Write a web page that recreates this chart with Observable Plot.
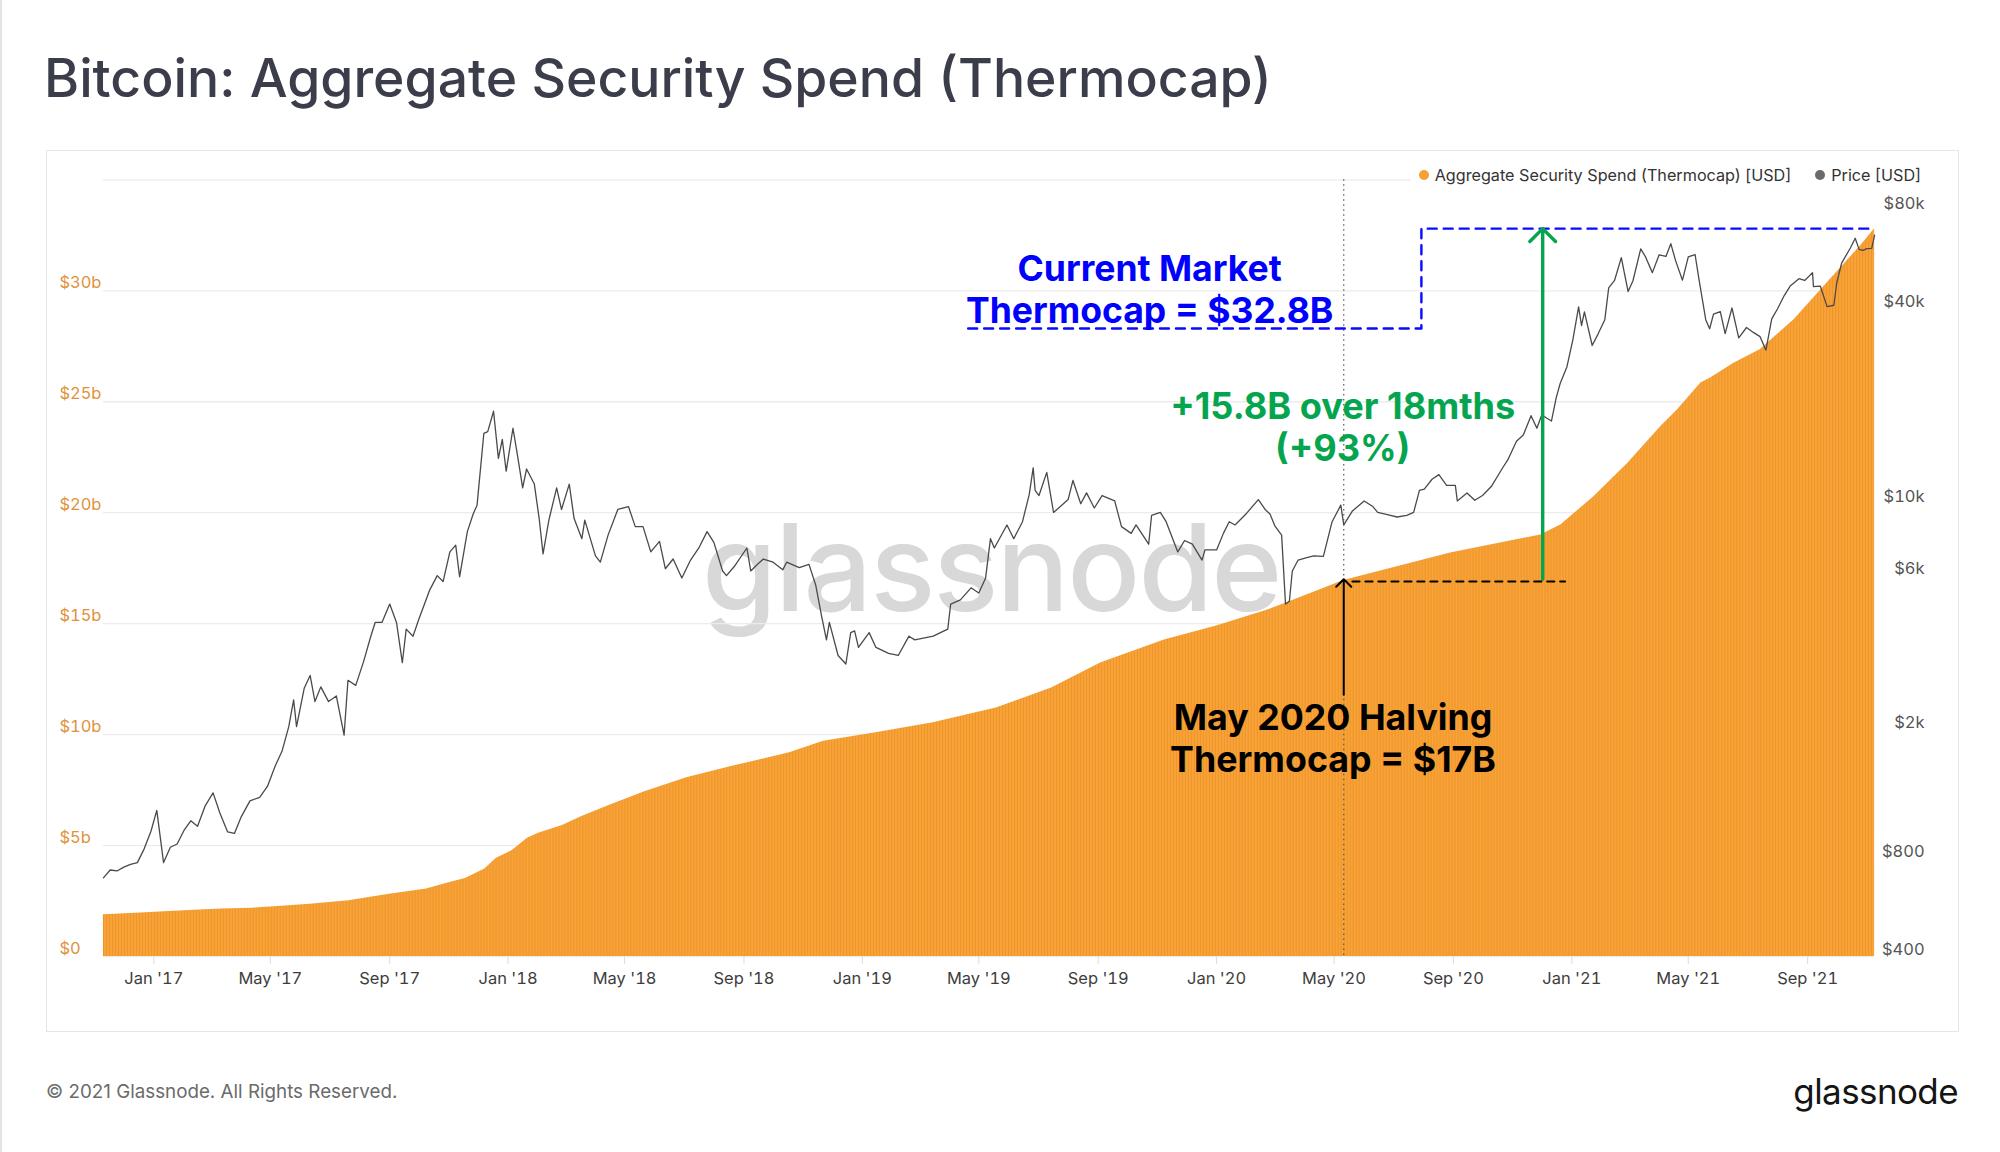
<!DOCTYPE html>
<html>
<head>
<meta charset="utf-8">
<script src="https://cdn.jsdelivr.net/npm/d3@7"></script>
<script src="https://cdn.jsdelivr.net/npm/@observablehq/plot@0.6"></script>
<style>
  html, body { margin: 0; padding: 0; background: #fff; }
  #page { position: relative; width: 2000px; height: 1152px; overflow: hidden; font-family: Inter, "Noto Sans", sans-serif; border-left: 2px solid #e4e4e4; box-sizing: border-box; }
  #title { position: absolute; left: 42px; top: 51px; font-size: 53.5px; font-weight: 500; color: #3b3e4a; white-space: nowrap; line-height: 1; }
  #box { position: absolute; left: 44px; top: 150px; width: 1913px; height: 882px; border: 1.5px solid #e6e6e6; box-sizing: border-box; }
  #watermark { position: absolute; left: 700px; top: 507px; font-size: 121px; line-height: 1; color: #d8d8d8; font-weight: 500; letter-spacing: -2px; white-space: nowrap; }
  #chart { position: absolute; left: 0; top: 0; z-index: 2; }
  #legend { position: absolute; right: 79px; top: 163px; z-index: 3; background: #fff; display: flex; align-items: center; font-size: 16.2px; color: #333; padding-left: 8px; height: 24px; }
  .dot { display: inline-block; width: 10px; height: 10px; border-radius: 50%; margin-right: 6px; }
  .item { display: flex; align-items: center; }
  #footer { position: absolute; left: 44px; top: 1080px; font-size: 18.8px; color: #6b6b6b; white-space: nowrap; }
  #logo { position: absolute; right: 42px; top: 1070px; font-size: 35px; color: #151515; letter-spacing: -0.6px; white-space: nowrap; }
</style>
</head>
<body>
<div id="page">
  <div id="title">Bitcoin: Aggregate Security Spend (Thermocap)</div>
  <div id="box"></div>
  <div id="watermark">glassnode</div>
  <div id="legend">
    <span class="item"><span class="dot" style="background:#f7a135"></span>Aggregate Security Spend (Thermocap) [USD]</span>
    <span class="item" style="margin-left:24px"><span class="dot" style="background:#6b6b6b"></span>Price [USD]</span>
  </div>
  <div id="footer">© 2021 Glassnode. All Rights Reserved.</div>
  <div id="logo">glassnode</div>
</div>
<script>
// ---- Thermocap (cumulative miner revenue), $ billions ----
const capDates = ["2016-11-10","2016-12-08","2017-01-12","2017-02-12","2017-03-12","2017-04-12","2017-05-05","2017-06-11","2017-07-21","2017-08-30","2017-10-09","2017-11-02","2017-11-18","2017-12-08","2017-12-20","2018-01-05","2018-01-21","2018-02-02","2018-02-26","2018-03-18","2018-04-15","2018-05-21","2018-07-04","2018-08-20","2018-10-18","2018-11-22","2019-01-15","2019-03-15","2019-05-19","2019-07-15","2019-09-04","2019-11-09","2020-01-01","2020-02-22","2020-03-14","2020-05-11","2020-08-29","2020-11-30","2020-12-21","2021-01-24","2021-02-28","2021-04-03","2021-04-20","2021-05-14","2021-05-24","2021-06-17","2021-07-14","2021-08-18","2021-09-21","2021-10-25","2021-11-09"];
const capValues = [1.88,1.94,2.02,2.09,2.14,2.18,2.24,2.36,2.51,2.79,3.04,3.34,3.52,3.95,4.43,4.77,5.33,5.57,5.90,6.31,6.81,7.41,8.06,8.57,9.18,9.70,10.08,10.53,11.20,12.10,13.24,14.28,14.90,15.60,15.95,16.95,18.18,19.00,19.46,20.73,22.24,23.89,24.64,25.84,26.07,26.74,27.34,28.70,30.35,32.00,32.80];

// ---- Price, USD ----
const priceDates = ["2016-11-10","2016-11-17","2016-11-24","2016-12-01","2016-12-08","2016-12-15","2016-12-22","2016-12-29","2017-01-04","2017-01-11","2017-01-18","2017-01-25","2017-02-01","2017-02-08","2017-02-15","2017-02-23","2017-03-03","2017-03-10","2017-03-18","2017-03-25","2017-04-01","2017-04-10","2017-04-20","2017-04-28","2017-05-06","2017-05-13","2017-05-20","2017-05-25","2017-05-28","2017-06-05","2017-06-11","2017-06-16","2017-06-22","2017-06-30","2017-07-08","2017-07-16","2017-07-20","2017-07-28","2017-08-05","2017-08-12","2017-08-17","2017-08-24","2017-09-01","2017-09-08","2017-09-14","2017-09-18","2017-09-25","2017-10-01","2017-10-12","2017-10-20","2017-10-26","2017-11-02","2017-11-08","2017-11-12","2017-11-20","2017-11-26","2017-11-30","2017-12-07","2017-12-11","2017-12-17","2017-12-22","2017-12-26","2017-12-30","2018-01-06","2018-01-10","2018-01-16","2018-01-20","2018-01-28","2018-02-02","2018-02-06","2018-02-12","2018-02-20","2018-02-25","2018-03-05","2018-03-10","2018-03-18","2018-03-21","2018-04-01","2018-04-06","2018-04-14","2018-04-24","2018-05-05","2018-05-12","2018-05-20","2018-05-28","2018-06-06","2018-06-12","2018-06-20","2018-06-29","2018-07-08","2018-07-17","2018-07-25","2018-08-01","2018-08-10","2018-08-14","2018-08-22","2018-09-04","2018-09-08","2018-09-15","2018-09-21","2018-10-01","2018-10-11","2018-10-15","2018-10-28","2018-11-07","2018-11-14","2018-11-20","2018-11-25","2018-11-28","2018-12-07","2018-12-15","2018-12-20","2018-12-24","2018-12-28","2019-01-08","2019-01-15","2019-01-28","2019-02-07","2019-02-18","2019-02-24","2019-03-15","2019-03-30","2019-04-02","2019-04-12","2019-04-23","2019-05-01","2019-05-08","2019-05-13","2019-05-17","2019-05-30","2019-06-06","2019-06-15","2019-06-22","2019-06-26","2019-06-28","2019-07-02","2019-07-10","2019-07-17","2019-07-24","2019-08-01","2019-08-06","2019-08-14","2019-08-20","2019-08-28","2019-09-05","2019-09-18","2019-09-25","2019-10-05","2019-10-10","2019-10-23","2019-10-26","2019-11-04","2019-11-10","2019-11-22","2019-11-29","2019-12-07","2019-12-17","2019-12-20","2020-01-01","2020-01-08","2020-01-14","2020-01-20","2020-02-01","2020-02-13","2020-02-20","2020-02-25","2020-03-01","2020-03-08","2020-03-12","2020-03-16","2020-03-19","2020-03-25","2020-04-02","2020-04-10","2020-04-20","2020-04-29","2020-05-08","2020-05-11","2020-05-20","2020-06-01","2020-06-10","2020-06-15","2020-06-25","2020-07-05","2020-07-15","2020-07-22","2020-07-28","2020-08-02","2020-08-10","2020-08-17","2020-08-25","2020-09-03","2020-09-05","2020-09-15","2020-09-23","2020-10-01","2020-10-10","2020-10-21","2020-10-27","2020-11-05","2020-11-12","2020-11-20","2020-11-26","2020-12-01","2020-12-11","2020-12-16","2020-12-20","2020-12-27","2021-01-02","2021-01-08","2021-01-11","2021-01-14","2021-01-22","2021-01-28","2021-02-04","2021-02-08","2021-02-14","2021-02-21","2021-02-28","2021-03-05","2021-03-13","2021-03-18","2021-03-25","2021-04-01","2021-04-08","2021-04-13","2021-04-18","2021-04-25","2021-05-01","2021-05-08","2021-05-12","2021-05-19","2021-05-23","2021-05-27","2021-06-03","2021-06-08","2021-06-15","2021-06-22","2021-06-30","2021-07-07","2021-07-14","2021-07-20","2021-07-26","2021-08-01","2021-08-08","2021-08-14","2021-08-23","2021-08-29","2021-09-06","2021-09-07","2021-09-14","2021-09-21","2021-09-28","2021-10-01","2021-10-06","2021-10-15","2021-10-20","2021-10-24","2021-10-28","2021-11-01","2021-11-06","2021-11-09"];
const priceValues = [700,740,735,755,770,780,860,975,1130,780,870,890,980,1050,1010,1170,1280,1110,970,960,1080,1210,1240,1340,1550,1720,2050,2480,2050,2700,2950,2450,2720,2450,2550,1930,2850,2750,3250,3850,4300,4300,4900,4300,3230,4100,3900,4400,5400,6000,5750,7100,7450,5950,8200,9300,9900,16500,16700,19300,13800,15800,12600,17100,14500,11200,12800,11500,9000,7000,8900,11200,9600,11500,9000,7800,8900,6900,6600,8000,9600,9800,8500,8500,7100,7650,6300,6750,5900,6700,7350,8200,7600,6200,6000,6400,7300,6200,6500,6750,6600,6250,6600,6350,6500,5600,4500,3800,4300,3400,3200,4000,4050,3600,4000,3600,3450,3400,3900,3800,3900,4100,4900,5050,5500,5300,5900,7800,7300,8600,7800,8800,10700,12900,11000,10600,12500,9400,9800,10300,11800,10000,10800,9700,10600,10200,8500,8100,8600,7500,9200,9400,8800,7100,7700,7500,6700,7200,7200,8100,8800,8600,9350,10300,9600,9300,8550,8000,4900,5000,6200,6700,6800,6900,6880,8800,9900,8600,9500,10200,9800,9400,9250,9100,9200,9400,11000,11100,11900,12300,11400,11400,10200,10800,10250,10600,11300,12800,13650,15600,16300,18700,17100,18800,18000,21300,23500,26500,32000,40500,35500,39100,30800,33400,37000,46400,48900,57500,45200,48800,61200,57800,51700,58700,58000,63500,56200,49000,57800,58800,49400,37000,34700,38500,39200,33500,40200,32500,35000,33800,32800,29800,37200,40000,44000,47000,49500,48900,51700,46800,47000,40600,41000,48100,55300,61600,66000,61000,60600,61300,61400,67500];

// ---- Axes ----
const xTickDates = ["2017-01-01","2017-05-01","2017-09-01","2018-01-01","2018-05-01","2018-09-01","2019-01-01","2019-05-01","2019-09-01","2020-01-01","2020-05-01","2020-09-01","2021-01-01","2021-05-01","2021-09-01"];
const capTicks = [0, 5, 10, 15, 20, 25, 30];
const gridTicks = [0, 5, 10, 15, 20, 25, 30, 35];
const priceTicks = [400, 800, 2000, 6000, 10000, 40000, 80000];
const capDomain = [0, 35];
const priceDomain = [400, 100000];
const xDomain = ["2016-11-10", "2021-11-09"];

// ---- Annotations ----
const halvingDate = "2020-05-11";
const blueBox = [["2019-04-20", 28.3], ["2020-07-30", 28.3], ["2020-07-30", 32.8], ["2021-11-09", 32.8]];
const blueText = {date: "2019-10-24", value: 30.1, text: "Current Market\nThermocap = $32.8B"};
const greenArrow = {date: "2020-12-02", from: 17.0, to: 32.8};
const greenText = {date: "2020-05-10", value: 23.87, text: "+15.8B over 18mths\n(+93%)"};
const blackDash = [["2020-05-20", 16.9], ["2020-12-25", 16.9]];
const blackArrow = {date: "2020-05-11", from: 11.8, to: 17.0};
const blackText = {date: "2020-04-30", value: 9.86, text: "May 2020 Halving\nThermocap = $17B"};

// ---- Build ----
const D = s => new Date(s + "T00:00:00Z");
const capData = capDates.map((d, i) => ({date: D(d), v: capValues[i]}));
const lnRange = Math.log(priceDomain[1] / priceDomain[0]);
const toCap = p => capDomain[1] * Math.log(p / priceDomain[0]) / lnRange;
const fromCap = v => priceDomain[0] * Math.exp(v / capDomain[1] * lnRange);
const priceData = priceDates.map((d, i) => ({date: D(d), v: toCap(priceValues[i])}));
const fmtPrice = v => { const p = Math.round(fromCap(v)); return p >= 1000 ? "$" + Math.round(p / 1000) + "k" : "$" + p; };

const svg = Plot.plot({
  width: 2000,
  height: 1152,
  marginLeft: 101,
  marginRight: 126,
  marginTop: 179.5,
  marginBottom: 195,
  style: {background: "transparent", fontFamily: "Inter, 'Noto Sans', sans-serif"},
  x: {type: "utc", domain: xDomain.map(D)},
  y: {domain: capDomain},
  marks: [
    Plot.gridY(gridTicks, {stroke: "#ececec", strokeOpacity: 1, strokeWidth: 1.3}),
    Plot.areaY(capData, {x: "date", y: "v", fill: "#f7a135", curve: "linear"}),
    Plot.ruleX([D(halvingDate)], {stroke: "#555", strokeWidth: 1.2, strokeDasharray: "1.5,3.5"}),
    Plot.line(priceData, {x: "date", y: "v", stroke: "#4a4a4a", strokeWidth: 1.3}),
    Plot.axisX(xTickDates.map(D), {tickFormat: d3.utcFormat("%b '%y"), tickSize: 8, tickPadding: 8, stroke: "#dcdcdc", fill: "#3d3d3d", fontSize: 16.5, label: null}),
    Plot.axisY(capTicks, {anchor: "left", tickSize: 0, tickPadding: 0, textAnchor: "start", dx: -44, dy: -8, fill: "#e0923a", fontSize: 16.5, tickFormat: v => v === 0 ? "$0" : "$" + v + "b", label: null}),
    Plot.axisY(priceTicks.map(toCap), {anchor: "right", tickSize: 0, tickPadding: 0, textAnchor: "end", dx: 50, dy: -7, fill: "#555", fontSize: 16.5, tickFormat: fmtPrice, label: null}),
    // blue dashed bracket
    Plot.line(blueBox, {x: d => D(d[0]), y: d => d[1], stroke: "#0a0aff", strokeWidth: 2.4, strokeDasharray: "9,7"}),
    Plot.text([blueText], {x: d => D(d.date), y: "value", text: "text", fill: "#0000ff", fontSize: 35.6, fontWeight: 700, lineHeight: 1.18, textAnchor: "middle"}),
    // green arrow
    Plot.arrow([greenArrow], {x: d => D(d.date), y1: "from", y2: "to", stroke: "#05a550", strokeWidth: 3.4, headAngle: 90, headLength: 8}),
    Plot.text([greenText], {x: d => D(d.date), y: "value", text: "text", fill: "#05a550", fontSize: 36.2, fontWeight: 700, lineHeight: 1.15, textAnchor: "middle"}),
    // black dashed + arrow
    Plot.line(blackDash, {x: d => D(d[0]), y: d => d[1], stroke: "#000", strokeWidth: 2.2, strokeDasharray: "7,6"}),
    Plot.arrow([blackArrow], {x: d => D(d.date), y1: "from", y2: "to", stroke: "#000", strokeWidth: 2, headAngle: 90, headLength: 8}),
    Plot.text([blackText], {x: d => D(d.date), y: "value", text: "text", fill: "#000", fontSize: 35.8, fontWeight: 700, lineHeight: 1.17, textAnchor: "middle"})
  ]
});

// striped bar texture for the thermocap area
const ns = "http://www.w3.org/2000/svg";
const defs = document.createElementNS(ns, "defs");
defs.innerHTML = '<pattern id="bars" width="3" height="6" patternUnits="userSpaceOnUse"><rect width="3" height="6" fill="#f8a33a"/><rect x="2" width="1" height="6" fill="#ee9426"/></pattern>';
svg.insertBefore(defs, svg.firstChild);
const areaG = svg.querySelector('g[aria-label="area"]');
if (areaG) { areaG.setAttribute("fill", "url(#bars)"); areaG.querySelectorAll("path").forEach(p => p.setAttribute("fill", "url(#bars)")); }

svg.id = "chart";
document.getElementById("page").appendChild(svg);
</script>
</body>
</html>
